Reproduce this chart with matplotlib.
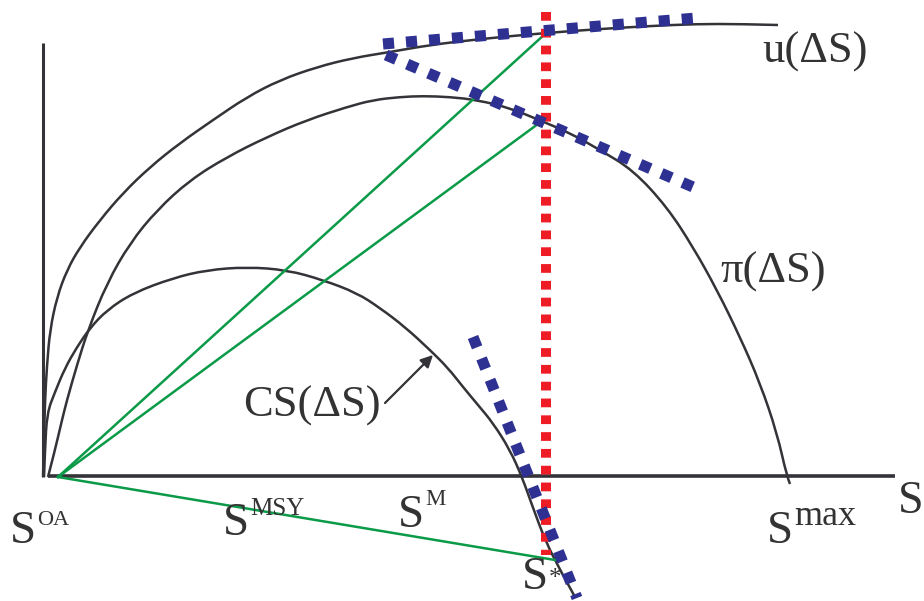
import numpy as np
import matplotlib
matplotlib.use("Agg")
import matplotlib.pyplot as plt
from matplotlib.path import Path
from matplotlib.patches import PathPatch

plt.rcParams['lines.scale_dashes'] = False
plt.rcParams['font.family'] = ['Liberation Serif', 'DejaVu Serif']

# ---- data (stock S on x, value on y; origin at S^OA) ----
u_S = [0, 1, 2, 4, 7, 14, 24, 37, 57, 80, 107, 137, 170, 204, 237, 274, 310, 347,
       387, 437, 502, 557, 607, 654, 697, 735]
u_V = [0, 37, 77, 112, 147, 180, 207, 230, 257, 284, 310, 334, 357, 380, 397, 410,
       419, 425, 432, 438, 444, 448, 451, 453, 453, 452]

pi_S = [5, 12, 19, 24, 34, 45, 64, 87, 114, 147, 184, 224, 264, 304, 330, 357, 380,
        407, 434, 467, 496, 527, 557, 590, 624, 650, 674, 697, 717, 734, 744, 747]
pi_V = [0, 27, 57, 77, 112, 147, 194, 234, 267, 297, 320, 340, 357, 370, 377, 380,
        381, 380, 377, 369, 357, 344, 327, 307, 270, 230, 187, 140, 94, 44, 0, -7]

cs_S = [1, 2, 4, 12, 22, 34, 47, 64, 90, 130, 164, 204, 244, 280, 314, 337, 362,
        387, 405, 420, 435, 450, 467, 479, 489, 502, 517, 532]
cs_V = [0, 27, 64, 85, 109, 130, 149, 167, 184, 199, 207, 210, 207, 197, 184, 169,
        150, 127, 109, 90, 72, 54, 27, 0, -28, -63, -93, -120]

# tangent segments (start, end)
tan_u = ([340, 654], [433, 459])
tan_pi = ([343, 657], [422, 287])
tan_cs = ([430, 534], [140, -121])

# optimum S* (red vertical)
s_star = 503
s_star_range = [465, -78]

# green rays from S^OA
ray_origin = (15, 0)
ray_ends_S = [502, 499, 512]
ray_ends_V = [443, 356, -83]

# ---- figure ----
fig = plt.figure(figsize=(9.24, 6.01), dpi=100)
ax = fig.add_axes([0, 0, 1, 1])
ax.set_xlim(-43, 881)
ax.set_ylim(-124, 477)
ax.axis('off')

dark = '#333338'
green = '#0A9A48'
blue = '#2E3192'
red = '#EE1D25'


def smooth_path(xs, ys):
    """Quadratic-Bezier path using the read points as control points."""
    p = np.column_stack([xs, ys]).astype(float)
    verts = [p[0], p[1], (p[1] + p[2]) / 2]
    codes = [Path.MOVETO, Path.CURVE3, Path.CURVE3]
    for i in range(2, len(p) - 2):
        verts += [p[i], (p[i] + p[i + 1]) / 2]
        codes += [Path.CURVE3, Path.CURVE3]
    verts += [p[-2], p[-1]]
    codes += [Path.CURVE3, Path.CURVE3]
    return Path(verts, codes)


# axes lines
ax.plot([0, 0], [0, 434], color=dark, lw=2.2, solid_capstyle='butt', zorder=2)
ax.plot([5, 852], [1, 1], color=dark, lw=2.6, solid_capstyle='butt', zorder=2)

# curves
for xs, ys in [(u_S, u_V), (pi_S, pi_V), (cs_S, cs_V)]:
    ax.add_patch(PathPatch(smooth_path(xs, ys), facecolor='none', edgecolor=dark,
                           lw=1.8, joinstyle='round', zorder=2))

# green rays
for ex, ey in zip(ray_ends_S, ray_ends_V):
    ax.plot([ray_origin[0], ex], [ray_origin[1], ey], color=green, lw=1.8, zorder=3)

# red dotted vertical
ax.plot([s_star, s_star], s_star_range, color=red, lw=7.2,
        linestyle=(0, (6.3, 5.8)), dash_capstyle='butt', zorder=4)

# blue dashed tangents
for xs, ys in [tan_u, tan_pi, tan_cs]:
    ax.plot(xs, ys, color=blue, lw=8.0, linestyle=(0, (8.0, 8.6)),
            dash_capstyle='butt', zorder=5)

# arrow to CS curve
ax.annotate('', xy=(390, 122), xytext=(342, 74),
            arrowprops=dict(arrowstyle='-|>', color=dark, lw=1.6,
                            mutation_scale=18, shrinkA=0, shrinkB=0), zorder=6)

tc = '#333333'
# curve labels
ax.text(719, 414, 'u(ΔS)', fontsize=32, color=tc, ha='left', va='baseline')
ax.text(677, 194, 'π(ΔS)', fontsize=32, color=tc, ha='left', va='baseline')
ax.text(200, 60, 'CS(ΔS)', fontsize=32, color=tc, ha='left', va='baseline')

# x-axis labels: (main S position, superscript, superscript position, size)
labels = [
    ((-33, -66), 'OA', (-6, -48), 16),
    ((180, -58), 'MSY', (207, -38), 18),
    ((355, -50), 'M', (382, -28), 16.5),
    ((479, -112), '*', (506, -108), 18),
    ((724, -66), 'max', (751, -48), 26),
]
for (sx, sy), sup, (px, py), fs in labels:
    ax.text(sx, sy, 'S', fontsize=34, color=tc, ha='left', va='baseline')
    ax.text(px, py, sup, fontsize=fs, color=tc, ha='left', va='baseline')

ax.text(855, -36, 'S', fontsize=33, color=tc, ha='left', va='baseline')

fig.savefig('out.png', dpi=100)
